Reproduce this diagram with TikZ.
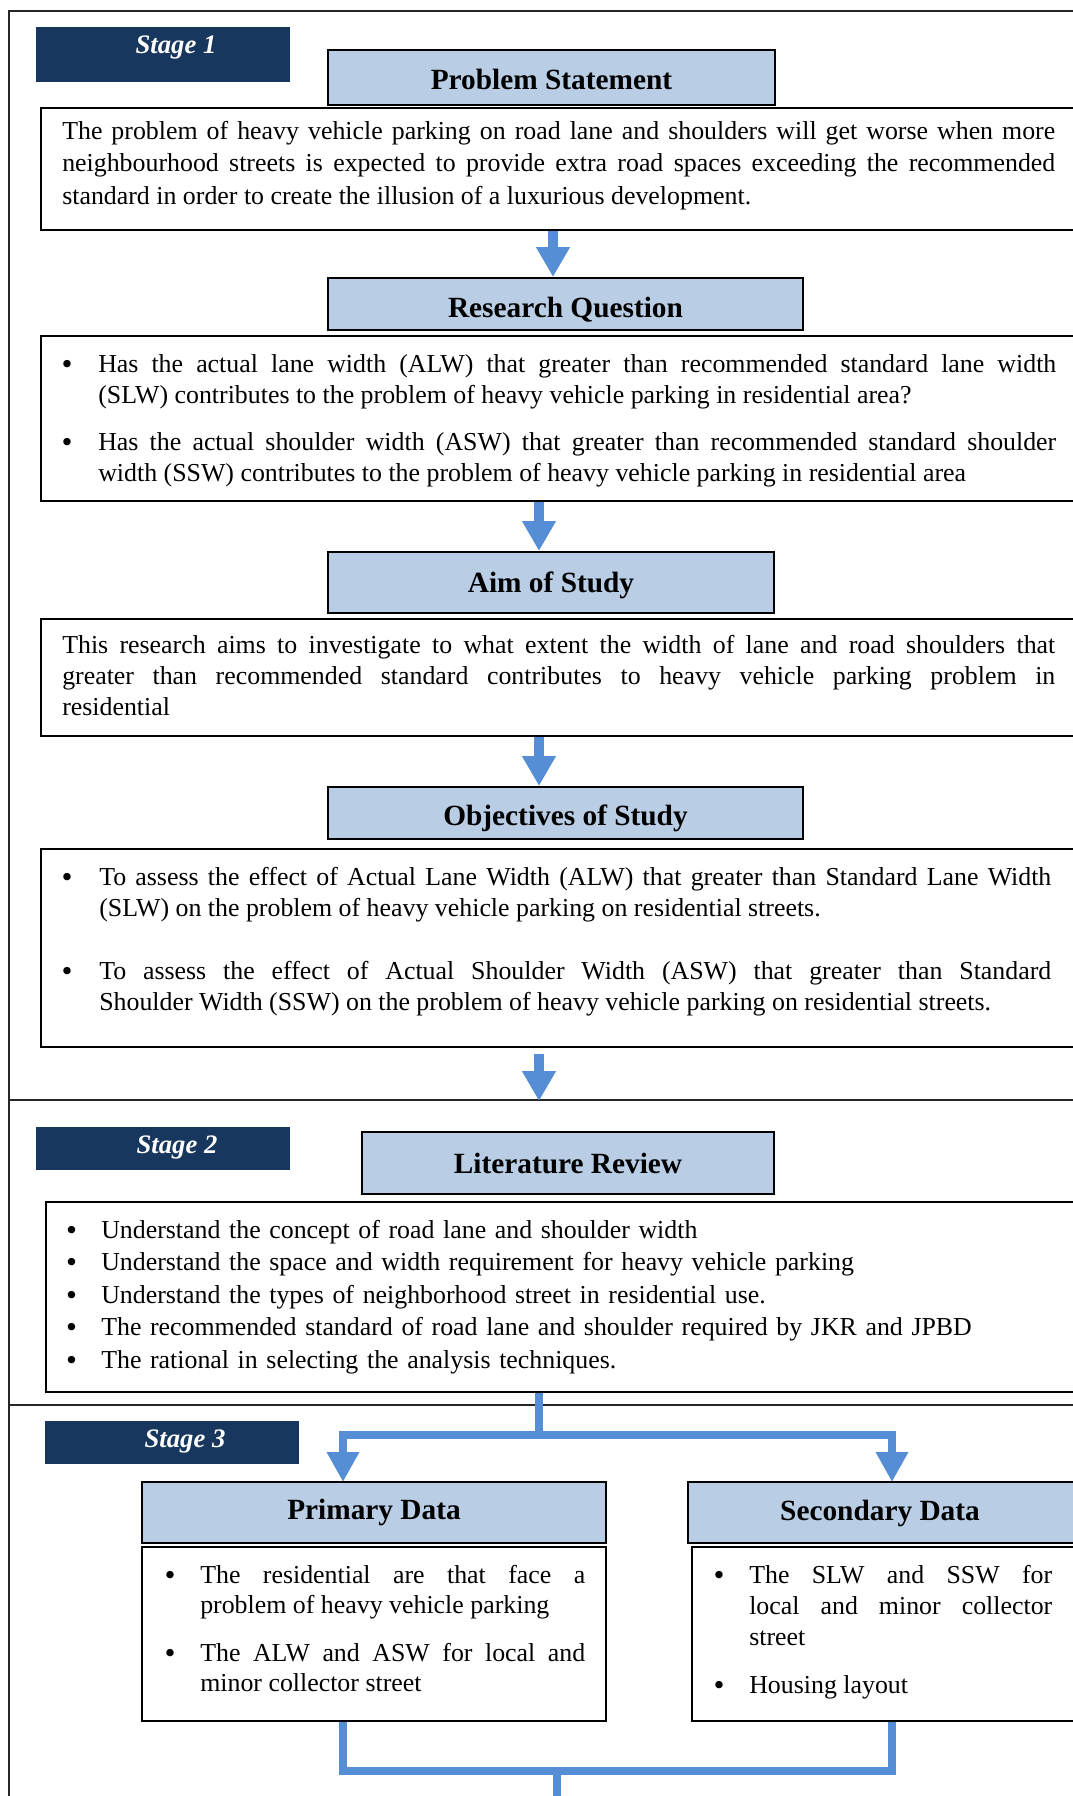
\documentclass[tikz,border=0pt]{standalone}
\usepackage{fontspec}
\setmainfont{Liberation Serif}
\newfontfamily\bulfont{DejaVu Sans}
\usetikzlibrary{arrows.meta,fit}
\definecolor{arrowblue}{HTML}{558ED5}
\definecolor{hdrfill}{HTML}{B9CDE5}
\definecolor{stagefill}{HTML}{17375E}
\newcommand{\bulletmark}{•}
\begin{document}
\begin{tikzpicture}[x=0.75pt,y=-0.75pt,
  frame/.style={draw=black!85, line width=1.5pt},
  hdr/.style={draw=black, line width=1.5pt, fill=hdrfill, inner sep=0pt},
  tbox/.style={draw=black, line width=1.5pt, fill=white, inner sep=0pt},
  stagebox/.style={fill=stagefill, inner sep=0pt},
  stagetxt/.style={text=white, font=\fontsize{20}{24}\selectfont\bfseries\itshape, anchor=base, inner sep=0pt},
  hdrtxt/.style={font=\fontsize{22}{26}\selectfont\bfseries, anchor=base, inner sep=0pt},
  body/.style={font={\fontsize{19.4}{#1}\selectfont\tolerance=10000\hbadness=10000\emergencystretch=0pt}, anchor=base west, inner sep=0pt, align=justify},
  body/.default=23.25pt,
  bul/.style={font=\bulfont\fontsize{19}{22}\selectfont, anchor=base, inner sep=0pt, yshift=-1.1pt},
  barrow/.style={draw=arrowblue, line width=7.5pt, -{Triangle[width=24pt,length=22.5pt]}},
  bline/.style={draw=arrowblue, line width=6pt, line join=miter},
  bhead/.style={bline, -{Triangle[width=23pt,length=22.5pt]}}
]
\fill[white] (0,0) rectangle (1072,1796);
\useasboundingbox (0,0) rectangle (1072,1796);

% outer frame and stage separators
\draw[frame] (8.5,1800) -- (8.5,11) -- (1080,11);
\draw[frame] (8.5,1100) -- (1080,1100);
\draw[frame] (8.5,1405) -- (1080,1405);

% ---------------- Stage 1 ----------------
\node[stagebox, fit={(36,27)(290,82)}] (st1) {};
\node[stagetxt] (st1t) at (176,53) {Stage 1};

\node[hdr, fit={(328,50)(775,105)}] (psh) {};
\node[hdrtxt] (psht) at (psh.center |- 0,89) {Problem Statement};
\node[tbox, fit={(41,108)(1090,230)}] (psb) {};
\node[body=24.375pt, text width=744.75pt] (psbt) at (62,139)
 {The problem of heavy vehicle parking on road lane and shoulders will get worse when more\linebreak
  neighbourhood streets is expected to provide extra road spaces exceeding the recommended\linebreak
  standard in order to create the illusion of a luxurious development.};

\node[hdr, fit={(328,278)(803,330)}] (rqh) {};
\node[hdrtxt] (rqht) at (rqh.center |- 0,317) {Research Question};
\node[tbox, fit={(41,336)(1090,501)}] (rqb) {};
\node[bul] (rqb1) at (67,372) {\bulletmark};
\node[body, text width=718.5pt] (rqt1) at (98,372)
 {Has the actual lane width (ALW) that greater than recommended standard lane width\linebreak
  (SLW) contributes to the problem of heavy vehicle parking in residential area?};
\node[bul] (rqb2) at (67,450) {\bulletmark};
\node[body, text width=718.5pt] (rqt2) at (98,450)
 {Has the actual shoulder width (ASW) that greater than recommended standard shoulder\linebreak
  width (SSW) contributes to the problem of heavy vehicle parking in residential area};

\node[hdr, fit={(328,552)(774,613)}] (aih) {};
\node[hdrtxt] (aiht) at (aih.center |- 0,592) {Aim of Study};
\node[tbox, fit={(41,619)(1090,736)}] (aib) {};
\node[body, text width=744.75pt] (aibt) at (62,653)
 {This research aims to investigate to what extent the width of lane and road shoulders that\linebreak
  greater than recommended standard contributes to heavy vehicle parking problem in\linebreak
  residential};

\node[hdr, fit={(328,787)(803,839)}] (obh) {};
\node[hdrtxt] (obht) at (obh.center |- 0,825) {Objectives of Study};
\node[tbox, fit={(41,849)(1090,1047)}] (obb) {};
\node[bul] (obb1) at (67,885) {\bulletmark};
\node[body, text width=714pt] (obt1) at (99,885)
 {To assess the effect of Actual Lane Width (ALW) that greater than Standard Lane Width\linebreak
  (SLW) on the problem of heavy vehicle parking on residential streets.};
\node[bul] (obb2) at (67,979) {\bulletmark};
\node[body, text width=714pt] (obt2) at (99,979)
 {To assess the effect of Actual Shoulder Width (ASW) that greater than Standard\linebreak
  Shoulder Width (SSW) on the problem of heavy vehicle parking on residential streets.};

% arrows stage 1
\coordinate (a1) at (553,0);
\coordinate (a2) at (539,0);
\coordinate (a4s) at (539,1054);
\coordinate (a4e) at (539,1101);
\draw[barrow] (psb.south -| a1) -- (rqh.north -| a1);
\draw[barrow] (rqb.south -| a2) -- (aih.north -| a2);
\draw[barrow] (aib.south -| a2) -- (obh.north -| a2);
\draw[barrow] (a4s) -- (a4e);

% ---------------- Stage 2 ----------------
\node[stagebox, fit={(36,1127)(290,1170)}] (st2) {};
\node[stagetxt] (st2t) at (177,1153) {Stage 2};

\node[hdr, fit={(362,1132)(774,1194)}] (lrh) {};
\node[hdrtxt] (lrht) at (lrh.center |- 0,1173) {Literature Review};
\node[tbox, fit={(46,1202)(1090,1392)}] (lrb) {};
\node[bul] (lrb1) at (71.5,1238) {\bulletmark};
\node[bul] (lrb2) at (71.5,1270.5) {\bulletmark};
\node[bul] (lrb3) at (71.5,1303) {\bulletmark};
\node[bul] (lrb4) at (71.5,1335.5) {\bulletmark};
\node[bul] (lrb5) at (71.5,1368) {\bulletmark};
\node[body=24.375pt, text width=740pt, align=left] (lrt) at (101,1238)
 {Understand the concept of road lane and shoulder width\\
  Understand the space and width requirement for heavy vehicle parking\\
  Understand the types of neighborhood street in residential use.\\
  The recommended standard of road lane and shoulder required by JKR and JPBD\\
  The rational in selecting the analysis techniques.};

% ---------------- Stage 3 ----------------
\node[stagebox, fit={(45,1421)(299,1464)}] (st3) {};
\node[stagetxt] (st3t) at (185,1447) {Stage 3};

\node[hdr, fit={(142,1482)(606,1543)}] (pdh) {};
\node[hdrtxt] (pdht) at (pdh.center |- 0,1519) {Primary Data};
\node[tbox, fit={(142,1547)(606,1721)}] (pdb) {};
\node[bul] (pdb1) at (170,1583) {\bulletmark};
\node[body=22.875pt, text width=288.75pt] (pdt1) at (200,1583)
 {The residential are that face a\linebreak
  problem of heavy vehicle parking};
\node[bul] (pdb2) at (170,1661) {\bulletmark};
\node[body=22.875pt, text width=288.75pt] (pdt2) at (200,1661)
 {The ALW and ASW for local and\linebreak
  minor collector street};

\node[hdr, fit={(688,1482)(1090,1543)}] (sdh) {};
\node[hdrtxt] (sdht) at (880,1520) {Secondary Data};
\node[tbox, fit={(692,1547)(1090,1721)}] (sdb) {};
\node[bul] (sdb1) at (719,1583) {\bulletmark};
\node[body, text width=227.25pt] (sdt1) at (749,1583)
 {The SLW and SSW for\linebreak
  local and minor collector\linebreak
  street};
\node[bul] (sdb2) at (719,1693) {\bulletmark};
\node[body, text width=227.25pt] (sdt2) at (749,1693) {Housing layout};

% branch connectors
\coordinate (jn) at (539,1435);
\coordinate (pdtip) at (343,1482);
\coordinate (sdtip) at (892,1482);
\coordinate (bj) at (557,1771);
\coordinate (bot) at (557,1800);
\draw[bline] (lrb.south -| jn) -- (jn);
\draw[bhead] (jn) -| (pdtip);
\draw[bhead] (jn) -| (sdtip);
\draw[bline] (pdb.south -| pdtip) |- (bj) -| (sdb.south -| sdtip);
\draw[bline] (bj) -- (bot);
\end{tikzpicture}
\end{document}
